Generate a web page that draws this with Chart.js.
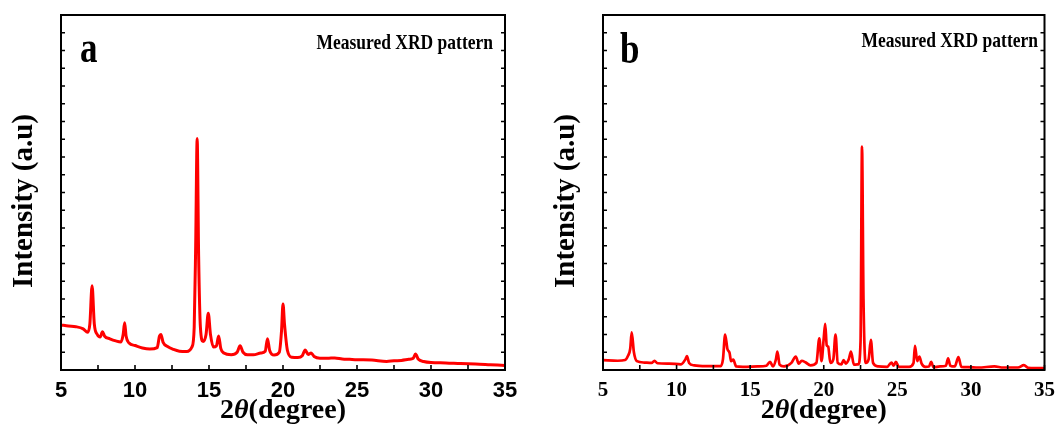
<!DOCTYPE html>
<html>
<head>
<meta charset="utf-8">
<script src="https://cdn.jsdelivr.net/npm/chart.js"></script>
<style>
  body { margin: 0; background: #fff; width: 1063px; height: 434px; position: relative; overflow: hidden; }
  canvas { position: absolute; top: 0; }
  #chartA { left: 0; }
  #chartB { left: 535px; }
</style>
</head>
<body>
<canvas id="chartA" width="535" height="434"></canvas>
<canvas id="chartB" width="528" height="434"></canvas>
<script>
/* ============================= */
/* DATA    */
/* ============================= */

const xTicks = [5, 10, 15, 20, 25, 30, 35];

// panel a: 2theta (degree) and intensity (a.u., 0-100 of axis height)
const twoThetaA = [5, 5.5, 6, 6.5, 6.8, 6.95, 7.1, 7.25, 7.45, 7.65, 7.8, 7.95, 8.3, 8.7, 9.05, 9.2, 9.3, 9.4, 9.6, 10,
  10.5, 11, 11.5, 11.65, 11.75, 11.9, 12.2, 12.6, 13, 13.5, 13.85, 14.0, 14.1, 14.2, 14.3, 14.42, 14.6, 14.8, 14.95, 15.1,
  15.3, 15.5, 15.65, 15.8, 16.0, 16.5, 16.9, 17.1, 17.3, 17.6, 18, 18.5, 18.8, 18.95, 19.1, 19.4, 19.75, 19.9, 20.0, 20.1,
  20.3, 20.6, 21.0, 21.3, 21.5, 21.7, 21.9, 22.1, 22.5, 23, 23.5, 24, 24.5, 25, 26, 27, 27.5, 28, 28.5, 28.8,
  28.95, 29.15, 29.5, 30, 31, 32, 33, 34, 35];
const intensityA = [12.7, 12.4, 12.2, 11.6, 10.6, 13, 23.7, 13, 10, 9.3, 10.8, 9.5, 8.8, 8.2, 7.9, 10, 13.3, 9.5, 7.6, 6.9,
  6.2, 5.9, 6.3, 9.5, 10, 7.8, 6.6, 5.8, 5.3, 5.2, 6.5, 12, 35, 65.2, 32, 12, 8, 10, 16, 10,
  6.5, 6.8, 9.6, 6, 4.8, 4.3, 5, 6.8, 5, 4.3, 4.3, 4.8, 5.3, 8.8, 5.5, 4.2, 5, 11, 18.6, 13,
  5.5, 3.6, 3.5, 4, 5.6, 4.4, 4.8, 3.8, 3.3, 3.3, 3.4, 3.1, 3, 2.9, 2.8, 2.4, 2.6, 2.7, 3, 3.3,
  4.5, 3, 2.4, 2.1, 2, 1.8, 1.7, 1.5, 1.3];

// panel b
const twoThetaB = [5, 6, 6.5, 6.7, 6.85, 6.95, 7.1, 7.3, 7.8, 8.3, 8.5, 8.7, 9.5, 10.3, 10.6, 10.7, 10.85, 11.2, 12, 13,
  13.15, 13.3, 13.45, 13.6, 13.7, 13.85, 14.05, 14.5, 15.5, 16.1, 16.35, 16.55, 16.75, 16.85, 17.0, 17.3, 17.8, 18.1, 18.3, 18.5,
  18.75, 19.1, 19.5, 19.7, 19.85, 20.0, 20.1, 20.2, 20.3, 20.45, 20.65, 20.8, 20.95, 21.2, 21.35, 21.5, 21.7, 21.85, 22.05, 22.35,
  22.5, 22.6, 22.7, 22.85, 23.05, 23.2, 23.35, 23.7, 24.3, 24.6, 24.75, 24.9, 25.1, 25.8, 26.1, 26.2, 26.35, 26.5, 26.65, 26.9,
  27.15, 27.3, 27.45, 27.9, 28.3, 28.45, 28.6, 28.9, 29.15, 29.35, 29.8, 30.5, 31.6, 32.2, 33.2, 33.6, 33.9, 35];
const intensityB = [2.8, 2.6, 2.8, 4, 6, 10.6, 5, 2.5, 2.1, 2.0, 2.6, 1.9, 1.8, 1.6, 3, 3.9, 2, 1.3, 1.1, 1.1,
  3, 10.0, 6, 4.8, 2.5, 2.9, 1, 0.9, 1.0, 1.2, 2.3, 1, 3, 5.2, 1.5, 1, 2.0, 3.8, 1.8, 2.6,
  2.2, 1.3, 2, 8.9, 2.5, 9, 13, 7, 6.6, 2, 3, 10, 2, 1.6, 2.8, 1.8, 3, 5.2, 1.5, 1.6,
  8, 62.9, 20, 2, 3, 8.5, 2, 1, 0.9, 2.1, 1.2, 2.3, 0.9, 0.9, 2, 6.8, 2.5, 3.8, 1.8, 0.9,
  1, 2.3, 0.8, 1, 1.2, 3.3, 1.2, 1, 3.6, 0.9, 0.8, 0.7, 1.0, 0.7, 0.7, 1.4, 0.6, 0.5];

/* ============================= */
/* FRAME, TICKS AND TEXT         */
/* ============================= */

// text in the source figure is squeezed sideways, so stretch it a bit
function tallText(ctx, text, x, y, font, sy) {
  ctx.save();
  ctx.translate(x, y);
  ctx.scale(1, sy);
  ctx.font = font;
  ctx.fillText(text, 0, 0);
  ctx.restore();
}

const frameStyle = {
  id: "frameStyle",
  afterDraw(chart, args, o) {
    const ctx = chart.ctx;
    const a = chart.chartArea;
    const xs = chart.scales.x;
    const ys = chart.scales.y;

    ctx.save();
    ctx.strokeStyle = "#000";
    ctx.lineWidth = 2;
    ctx.strokeRect(a.left, a.top, a.right - a.left, a.bottom - a.top);

    // inward ticks
    ctx.lineWidth = 1.6;
    ctx.beginPath();
    xs.ticks.forEach((t) => {
      const px = xs.getPixelForValue(t.value);
      ctx.moveTo(px, a.bottom);
      ctx.lineTo(px, a.bottom - 5);
    });
    ys.ticks.forEach((t) => {
      if (t.value <= ys.min || t.value >= ys.max) return;
      const py = ys.getPixelForValue(t.value);
      ctx.moveTo(a.left, py);
      ctx.lineTo(a.left + 4, py);
      ctx.moveTo(a.right, py);
      ctx.lineTo(a.right - 4, py);
    });
    ctx.stroke();

    ctx.fillStyle = "#000";
    ctx.textBaseline = "alphabetic";

    // panel letter
    ctx.textAlign = "left";
    tallText(ctx, o.letter, o.letterX, o.letterY, "bold 35px 'Liberation Serif'", 1.25);

    // note in the upper right
    ctx.textAlign = "right";
    tallText(ctx, "Measured XRD pattern", o.noteX, o.noteY, "bold 17.5px 'Liberation Serif'", 1.2);

    // y title
    ctx.save();
    ctx.translate(o.yTitleX, 201);
    ctx.rotate(-Math.PI / 2);
    ctx.font = "bold 29px 'Liberation Serif'";
    ctx.textAlign = "center";
    ctx.textBaseline = "middle";
    ctx.fillText("Intensity (a.u)", 0, 0);
    ctx.restore();

    // x title, theta in italic
    const parts = [
      ["2", "bold 28px 'Liberation Serif'"],
      ["\u03B8", "italic bold 28px 'Liberation Serif'"],
      ["(degree)", "bold 28px 'Liberation Serif'"],
    ];
    let total = 0;
    parts.forEach((p) => {
      ctx.font = p[1];
      total += ctx.measureText(p[0]).width;
    });
    let x = (a.left + a.right) / 2 - total / 2;
    ctx.textAlign = "left";
    parts.forEach((p) => {
      ctx.font = p[1];
      ctx.fillText(p[0], x, 418);
      x += ctx.measureText(p[0]).width;
    });
    ctx.restore();
  },
};

function makeChart(id, xs, ys, layout) {
  const points = xs.map((v, i) => ({ x: v, y: ys[i] }));

  return new Chart(document.getElementById(id), {
    type: "line",
    data: {
      datasets: [
        {
          data: points,
          borderColor: "#ff0000",
          borderWidth: layout.lineWidth,
          pointRadius: 0,
          cubicInterpolationMode: "monotone",
        },
      ],
    },
    options: {
      responsive: false,
      animation: false,
      layout: { padding: { top: 15, right: layout.right, left: 0, bottom: 0 } },
      plugins: {
        legend: { display: false },
        tooltip: { enabled: false },
        frameStyle: layout.text,
      },
      scales: {
        x: {
          type: "linear",
          min: 5,
          max: 35,
          afterFit: (s) => { s.height = 64; },
          grid: { display: false, drawTicks: false },
          border: { display: false },
          ticks: {
            stepSize: 2.5,
            autoSkip: false,
            maxRotation: 0,
            padding: 8,
            color: "#000",
            font: layout.tickFont,
            callback: (v) => (xTicks.includes(v) ? v : ""),
          },
        },
        y: {
          min: 0,
          max: 100,
          afterFit: (s) => { s.width = layout.left; },
          grid: { display: false, drawTicks: false },
          border: { display: false },
          ticks: { display: false, stepSize: 5 },
        },
      },
    },
    plugins: [frameStyle],
  });
}

makeChart("chartA", twoThetaA, intensityA, {
  left: 61,
  right: 30,
  lineWidth: 3,
  tickFont: { family: "'Liberation Sans'", size: 22, weight: "bold" },
  text: { letter: "a", letterX: 80, letterY: 62, noteX: 493, noteY: 49, yTitleX: 25 },
});

makeChart("chartB", twoThetaB, intensityB, {
  left: 68,
  right: 13,
  lineWidth: 2.7,
  tickFont: { family: "'Liberation Serif'", size: 21, weight: "bold" },
  text: { letter: "b", letterX: 85, letterY: 63, noteX: 503, noteY: 47, yTitleX: 32 },
});
</script>
</body>
</html>
